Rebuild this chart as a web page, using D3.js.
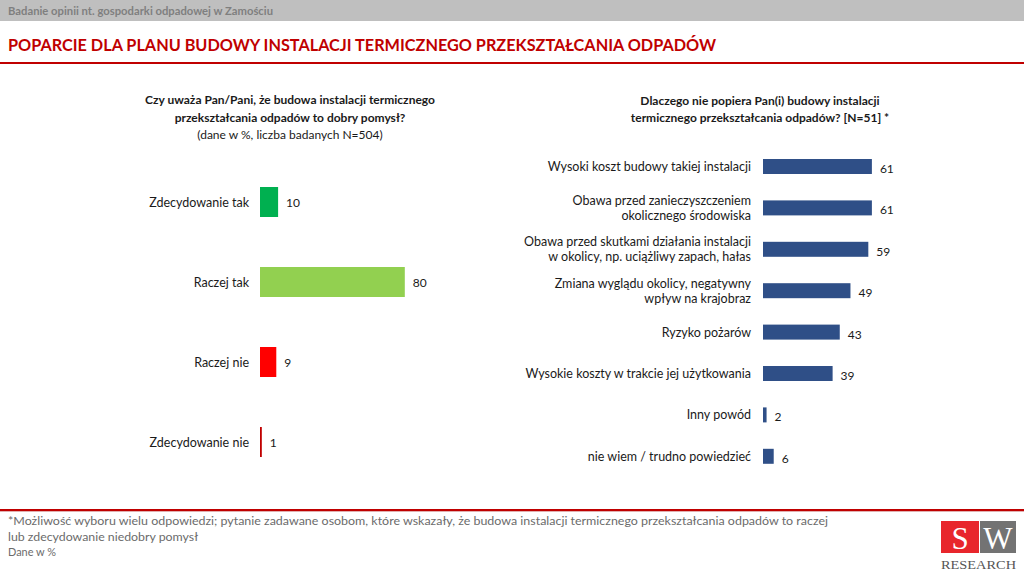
<!DOCTYPE html>
<html>
<head>
<meta charset="utf-8">
<script src="https://cdn.jsdelivr.net/npm/d3@7"></script>
<style>
  html, body { margin: 0; padding: 0; background: #fff; }
  svg { display: block; font-family: Lato, "Open Sans", sans-serif; }
</style>
</head>
<body>
<svg id="chart" width="1024" height="576"></svg>
<script>
const headerText = "Badanie opinii nt. gospodarki odpadowej w Zamościu";
const mainTitle = "POPARCIE DLA PLANU BUDOWY INSTALACJI TERMICZNEGO PRZEKSZTAŁCANIA ODPADÓW";

const leftTitle = ["Czy uważa Pan/Pani, że budowa instalacji termicznego", "przekształcania odpadów to dobry pomysł?"];
const leftSubtitle = "(dane w %, liczba badanych N=504)";
const leftCategories = ["Zdecydowanie tak", "Raczej tak", "Raczej nie", "Zdecydowanie nie"];
const leftValues = [10, 80, 9, 1];
const leftColors = ["#00b050", "#92d050", "#ff0000", "#c00000"];

const rightTitle = ["Dlaczego nie popiera Pan(i) budowy instalacji", "termicznego przekształcania odpadów? [N=51] *"];
const rightCategories = [
  ["Wysoki koszt budowy takiej instalacji"],
  ["Obawa przed zanieczyszczeniem", "okolicznego środowiska"],
  ["Obawa przed skutkami działania instalacji", "w okolicy, np. uciążliwy zapach, hałas"],
  ["Zmiana wyglądu okolicy, negatywny", "wpływ na krajobraz"],
  ["Ryzyko pożarów"],
  ["Wysokie koszty w trakcie jej użytkowania"],
  ["Inny powód"],
  ["nie wiem / trudno powiedzieć"]
];
const rightValues = [61, 61, 59, 49, 43, 39, 2, 6];
const rightColor = "#2f4f87";

const footnotes = [
  "*Możliwość wyboru wielu odpowiedzi; pytanie zadawane osobom, które wskazały, że budowa instalacji termicznego przekształcania odpadów to raczej",
  "lub zdecydowanie niedobry pomysł",
  "Dane w %"
];

const svg = d3.select("#chart");

// Header band
svg.append("rect").attr("x", 0).attr("y", 0).attr("width", 1024).attr("height", 21).attr("fill", "#bfbfbf");
svg.append("text").attr("x", 8).attr("y", 15).attr("font-size", 11.5).attr("font-weight", 700)
  .attr("fill", "#7f7f7f").attr("textLength", 265).attr("lengthAdjust", "spacingAndGlyphs").text(headerText);

// Main title
svg.append("text").attr("x", 8).attr("y", 51).attr("font-size", 17).attr("font-weight", 700)
  .attr("fill", "#c00000").attr("textLength", 708).attr("lengthAdjust", "spacingAndGlyphs").text(mainTitle);
svg.append("rect").attr("x", 0).attr("y", 62).attr("width", 1024).attr("height", 2).attr("fill", "#c00000");

// Left chart
const lt = svg.append("g").attr("text-anchor", "middle").attr("fill", "#1a1a1a");
lt.append("text").attr("x", 290).attr("y", 104).attr("font-size", 12).attr("font-weight", 700).text(leftTitle[0]);
lt.append("text").attr("x", 290).attr("y", 122).attr("font-size", 12).attr("font-weight", 700).text(leftTitle[1]);
lt.append("text").attr("x", 290).attr("y", 139).attr("font-size", 12).text(leftSubtitle);

const xL = d3.scaleLinear().domain([0, 100]).range([260, 441]);
const yL = d3.scaleBand().domain(leftCategories).range([162, 482]).paddingInner(0.625).paddingOuter(0.3125);

const gL = svg.append("g");
gL.selectAll("rect").data(leftCategories).join("rect")
  .attr("x", xL(0)).attr("y", d => yL(d))
  .attr("width", (d, i) => xL(leftValues[i]) - xL(0))
  .attr("height", yL.bandwidth())
  .attr("fill", (d, i) => leftColors[i]);
gL.selectAll("text.cat").data(leftCategories).join("text").attr("class", "cat")
  .attr("x", 249).attr("y", d => yL(d) + yL.bandwidth() / 2 + 4.5)
  .attr("text-anchor", "end").attr("font-size", 12.5).attr("fill", "#1a1a1a").text(d => d);
gL.selectAll("text.val").data(leftCategories).join("text").attr("class", "val")
  .attr("x", (d, i) => xL(leftValues[i]) + 8).attr("y", d => yL(d) + yL.bandwidth() / 2 + 4.5)
  .attr("font-size", 12).attr("fill", "#1a1a1a").text((d, i) => leftValues[i]);

// Right chart
const rt = svg.append("g").attr("text-anchor", "middle").attr("fill", "#1a1a1a");
rt.append("text").attr("x", 760).attr("y", 105).attr("font-size", 12).attr("font-weight", 700).text(rightTitle[0]);
rt.append("text").attr("x", 760).attr("y", 122).attr("font-size", 12).attr("font-weight", 700).text(rightTitle[1]);

const rightKeys = rightCategories.map(d => d.join(" "));
const xR = d3.scaleLinear().domain([0, 100]).range([763, 941.5]);
const yR = d3.scaleBand().domain(rightKeys).range([145.8, 477]).paddingInner(0.638).paddingOuter(0.319);

const gR = svg.append("g");
gR.selectAll("rect").data(rightKeys).join("rect")
  .attr("x", xR(0)).attr("y", d => yR(d))
  .attr("width", (d, i) => xR(rightValues[i]) - xR(0))
  .attr("height", yR.bandwidth())
  .attr("fill", rightColor);
rightKeys.forEach((k, i) => {
  const lines = rightCategories[i];
  const cy = yR(k) + yR.bandwidth() / 2;
  const lh = 15;
  const t = gR.append("text").attr("text-anchor", "end").attr("font-size", 12.5).attr("fill", "#1a1a1a");
  lines.forEach((ln, j) => {
    t.append("tspan").attr("x", 751)
      .attr("y", cy + 4.5 + (j - (lines.length - 1) / 2) * lh).text(ln);
  });
  gR.append("text").attr("x", xR(rightValues[i]) + 8).attr("y", cy + 6.5)
    .attr("font-size", 12).attr("fill", "#1a1a1a").text(rightValues[i]);
});

// Footer
svg.append("rect").attr("x", 0).attr("y", 509).attr("width", 1024).attr("height", 2).attr("fill", "#c00000");
svg.append("rect").attr("x", 0).attr("y", 511).attr("width", 1024).attr("height", 1).attr("fill", "#e0b0b0");
const fw = [820, 190, 48];
footnotes.forEach((f, i) => {
  svg.append("text").attr("x", 8).attr("y", 525 + i * 15.5).attr("font-size", 11.5)
    .attr("fill", "#6b6b6b").attr("textLength", fw[i]).attr("lengthAdjust", "spacingAndGlyphs").text(f);
});

// Logo
svg.append("rect").attr("x", 941).attr("y", 521).attr("width", 38).attr("height", 32).attr("fill", "#e8262c");
svg.append("rect").attr("x", 980).attr("y", 521).attr("width", 36).attr("height", 32).attr("fill", "#737373");
svg.append("text").attr("x", 960).attr("y", 549).attr("text-anchor", "middle").attr("font-family", "Liberation Serif, DejaVu Serif, serif")
  .attr("font-size", 31).attr("fill", "#fff").text("S");
svg.append("text").attr("x", 998).attr("y", 549).attr("text-anchor", "middle").attr("font-family", "Liberation Serif, DejaVu Serif, serif")
  .attr("font-size", 31).attr("fill", "#fff").text("W");
svg.append("text").attr("x", 941).attr("y", 569).attr("font-family", "Liberation Serif, DejaVu Serif, serif")
  .attr("font-size", 13).attr("fill", "#555").attr("textLength", 75).attr("lengthAdjust", "spacingAndGlyphs").text("RESEARCH");
</script>
</body>
</html>
